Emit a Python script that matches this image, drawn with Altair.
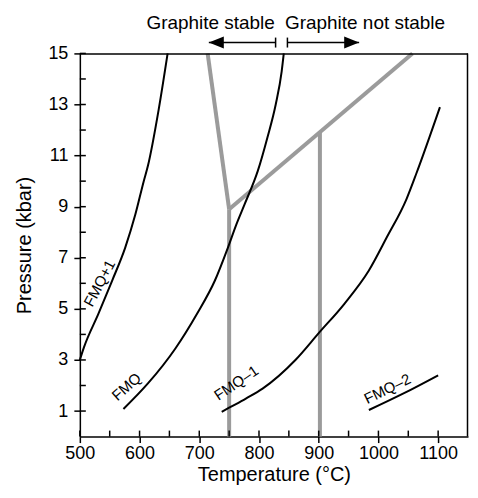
import altair as alt
import pandas as pd

# ---- data ----
fmq_p1_T = [500, 507, 531, 554, 576, 593, 607, 614, 632, 647]
fmq_p1_P = [3.0, 3.5, 4.8, 6.1, 7.4, 8.7, 10.0, 10.6, 12.8, 15.0]

fmq_T = [573, 614, 660, 696, 726, 748, 762, 776, 798, 814, 828, 838, 841.5]
fmq_P = [1.08, 2.08, 3.45, 4.8, 6.1, 7.4, 8.3, 9.1, 10.4, 11.7, 13.0, 14.3, 15.0]

fmq_m1_T = [737.6, 750, 778, 806, 861, 900, 943, 984, 1014, 1047, 1063.5, 1103]
fmq_m1_P = [0.97, 1.13, 1.49, 1.88, 3.0, 4.05, 5.2, 6.5, 7.8, 9.3, 10.3, 12.9]

fmq_m2_T = [984, 1042, 1100]
fmq_m2_P = [1.04, 1.69, 2.4]

# graphite stability boundaries (grey)
gr_names = ["v750", "v750", "branch", "branch", "diag", "diag", "v900", "v900"]
gr_T = [750, 750, 750, 714, 750, 1057, 902, 902]
gr_P = [0, 8.9, 8.9, 15, 8.9, 15, 0, 11.92]

# curve labels
lab_text = ["FMQ+1", "FMQ", "FMQ\u20131", "FMQ\u20132"]
lab_T = [533, 578, 762, 1015]
lab_P = [6.0, 1.95, 2.1, 1.87]
lab_angle = [298, 318, 326, 334]

# annotation above the plot
top_text = ["Graphite stable", "Graphite not stable"]
top_text_T = [719, 977.5]
top_text_P = [15.97, 15.97]
arrow_T0 = [827.8, 847.6]
arrow_T1 = [716, 967.7]
arrow_P = 15.43
bar_P = [15.23, 15.62]

x_ticks = list(range(500, 1101, 50))
y_ticks = list(range(1, 16))

FONT = "Liberation Sans"
W, H = 389, 384

xs = alt.Scale(domain=[500, 1150], nice=False, zero=False)
ys = alt.Scale(domain=[0, 15], nice=False, zero=False)

rows = []
for name, T, P in [("FMQ+1", fmq_p1_T, fmq_p1_P), ("FMQ", fmq_T, fmq_P),
                   ("FMQ-1", fmq_m1_T, fmq_m1_P), ("FMQ-2", fmq_m2_T, fmq_m2_P)]:
    for i, (t, p) in enumerate(zip(T, P)):
        rows.append({"curve": name, "T": t, "P": p, "i": i})
curves = pd.DataFrame(rows)

gray = pd.DataFrame({"seg": gr_names, "T": gr_T, "P": gr_P,
                     "i": list(range(len(gr_T)))})
labels = pd.DataFrame({"text": lab_text, "T": lab_T, "P": lab_P, "angle": lab_angle})

base_x = alt.X("T:Q", scale=xs, title="Temperature (\u00b0C)",
               axis=alt.Axis(values=x_ticks, format="d",
                             labelExpr="datum.value % 100 == 0 ? datum.label : ''",
                             labelFlush=False, labelOverlap=False,
                             grid=False, tickSize=6, tickColor="black", tickWidth=1.5,
                             domainColor="black", domainWidth=1.5,
                             labelFont=FONT, labelFontSize=18, labelColor="black",
                             labelPadding=2, titleFont=FONT, titleFontSize=20,
                             titleFontWeight="normal", titleColor="black", titlePadding=2))
base_y = alt.Y("P:Q", scale=ys, title="Pressure (kbar)",
               axis=alt.Axis(values=y_ticks,
                             labelExpr="datum.value % 2 == 1 ? datum.label : ''",
                             labelFlush=False, labelOverlap=False,
                             grid=False, tickSize=6, tickColor="black", tickWidth=1.5,
                             domainColor="black", domainWidth=1.5,
                             labelFont=FONT, labelFontSize=18, labelColor="black",
                             labelPadding=6, titleFont=FONT, titleFontSize=20,
                             titleFontWeight="normal", titleColor="black", titlePadding=13))

gray_layer = alt.Chart(gray).mark_line(color="#9b9b9b", strokeWidth=4, clip=False).encode(
    x=base_x, y=base_y, detail="seg:N", order="i:Q")

curve_layer = alt.Chart(curves).mark_line(color="black", strokeWidth=2, clip=False,
                                          interpolate="monotone").encode(
    x=alt.X("T:Q", scale=xs), y=alt.Y("P:Q", scale=ys), detail="curve:N", order="i:Q")

label_layer = alt.Chart(labels).mark_text(font=FONT, fontSize=15, color="black",
                                          align="center", baseline="middle").encode(
    x=alt.X("T:Q", scale=xs), y=alt.Y("P:Q", scale=ys),
    text="text:N", angle=alt.Angle("angle:Q", scale=None))

# inward halves of the crossing ticks
xt = pd.DataFrame({"T": x_ticks})
xtick_in = alt.Chart(xt).mark_rule(color="black", strokeWidth=1.5).encode(
    x=alt.X("T:Q", scale=xs), y=alt.value(H), y2=alt.value(H - 6))
yt = pd.DataFrame({"P": y_ticks})
ytick_in = alt.Chart(yt).mark_rule(color="black", strokeWidth=1.5).encode(
    y=alt.Y("P:Q", scale=ys), x=alt.value(0), x2=alt.value(6))

# frame: top and right edges
frame_top = alt.Chart(pd.DataFrame({"k": [0]})).mark_rule(color="black", strokeWidth=1.5).encode(
    x=alt.value(0), x2=alt.value(W), y=alt.value(0.5))
frame_right = alt.Chart(pd.DataFrame({"k": [0]})).mark_rule(color="black", strokeWidth=1.5).encode(
    x=alt.value(W - 0.5), y=alt.value(0), y2=alt.value(H))

# annotation above plot
top_df = pd.DataFrame({"text": top_text, "T": top_text_T, "P": top_text_P})
top_txt = alt.Chart(top_df).mark_text(font=FONT, fontSize=19, color="black",
                                      align="center", baseline="alphabetic").encode(
    x=alt.X("T:Q", scale=xs), y=alt.Y("P:Q", scale=ys), text="text:N")

arr_df = pd.DataFrame({"T0": arrow_T0, "T1": arrow_T1, "P": [arrow_P] * 2})
arr_lines = alt.Chart(arr_df).mark_rule(color="black", strokeWidth=1.5).encode(
    x=alt.X("T0:Q", scale=xs), x2="T1:Q", y=alt.Y("P:Q", scale=ys))
bar_df = pd.DataFrame({"T": arrow_T0, "P0": [bar_P[0]] * 2, "P1": [bar_P[1]] * 2})
bars = alt.Chart(bar_df).mark_rule(color="black", strokeWidth=1.5).encode(
    x=alt.X("T:Q", scale=xs), y=alt.Y("P0:Q", scale=ys), y2="P1:Q")
head_l = alt.Chart(pd.DataFrame({"T": [arrow_T1[0]], "P": [arrow_P]})).mark_point(
    shape="M0,0L2,-0.8L2,0.8Z", size=225, filled=True, color="black", opacity=1,
    strokeWidth=0).encode(x=alt.X("T:Q", scale=xs), y=alt.Y("P:Q", scale=ys))
head_r = alt.Chart(pd.DataFrame({"T": [arrow_T1[1]], "P": [arrow_P]})).mark_point(
    shape="M0,0L-2,-0.8L-2,0.8Z", size=225, filled=True, color="black", opacity=1,
    strokeWidth=0).encode(x=alt.X("T:Q", scale=xs), y=alt.Y("P:Q", scale=ys))

chart = alt.layer(gray_layer, curve_layer, label_layer, xtick_in, ytick_in,
                  frame_top, frame_right,
                  top_txt, arr_lines, bars, head_l, head_r).properties(
    width=W, height=H,
    background="white",
    autosize=alt.AutoSizeParams(type="none"),
    padding={"left": 72, "top": 45, "right": 2, "bottom": 48},
).configure_view(strokeWidth=0)

chart.save("out.html", embed_options={"renderer": "svg", "actions": False})
